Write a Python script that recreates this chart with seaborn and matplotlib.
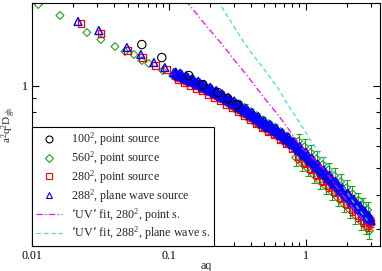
import numpy as np
import pandas as pd
import matplotlib
matplotlib.use("Agg")
import matplotlib.pyplot as plt
import seaborn as sns
from matplotlib.lines import Line2D
from matplotlib.ticker import FixedLocator, LogLocator, NullFormatter, FixedFormatter

# ---------------- data ----------------
black_aq = [0.0635, 0.0889, 0.1400, 0.1771, 0.2280, 0.2697, 0.3134]
black_val = [1.411, 1.265, 1.088, 1.008, 0.943, 0.897, 0.852]

green_low_aq = [0.0111, 0.0160, 0.0252, 0.0319, 0.0404, 0.0478, 0.0556, 0.0635, 0.0714, 0.0904, 0.1069]
green_low_val = [1.975, 1.801, 1.561, 1.472, 1.388, 1.331, 1.298, 1.234, 1.203, 1.134, 1.088]

red_low_aq = [0.0228, 0.0319, 0.0502, 0.0646, 0.0804, 0.0967]
red_low_val = [1.684, 1.548, 1.342, 1.265, 1.183, 1.144]

blue_low_aq = [0.0217, 0.0308, 0.0494, 0.0625, 0.0778, 0.0935, 0.1087]
blue_low_val = [1.713, 1.587, 1.376, 1.298, 1.213, 1.163, 1.115]

# momenta of the dense region (two interleaved sets of lattice momenta)
dense_aq = [0.1125, 0.1183, 0.1244, 0.1308, 0.1376, 0.1447, 0.1522, 0.1601, 0.1684, 0.1771,
            0.1863, 0.1959, 0.2060, 0.2167, 0.2279, 0.2397, 0.2521, 0.2651, 0.2788, 0.2932,
            0.3084, 0.3243, 0.3411, 0.3587, 0.3773, 0.3968, 0.4173, 0.4389, 0.4616, 0.4855,
            0.5105, 0.5369, 0.5647, 0.5939, 0.6246, 0.6569, 0.6909, 0.7266, 0.7642, 0.8037,
            0.8453, 0.8890, 0.9350, 0.9833, 1.034, 1.087, 1.144, 1.203, 1.265, 1.330,
            1.400, 1.472, 1.548, 1.628, 1.713, 1.802, 1.894, 1.992, 2.095, 2.203,
            2.317, 2.437, 2.563, 2.640, 2.742, 2.840, 2.932]
dense_aq_b = [0.1154, 0.1213, 0.1276, 0.1341, 0.1411, 0.1484, 0.1561, 0.1642, 0.1727, 0.1816,
              0.1911, 0.2009, 0.2113, 0.2222, 0.2337, 0.2458, 0.2586, 0.2719, 0.2859, 0.3007,
              0.3163, 0.3326, 0.3498, 0.3679, 0.3870, 0.4070, 0.4280, 0.4501, 0.4734, 0.4979,
              0.5236, 0.5507, 0.5792, 0.6091, 0.6406, 0.6737, 0.7086, 0.7452, 0.7838, 0.8243,
              0.8669, 0.9118, 0.9589, 1.0085, 1.0605, 1.1149, 1.1733, 1.2338, 1.2974, 1.3640,
              1.4358, 1.5096, 1.5876, 1.6697, 1.7569, 1.8481, 1.9425, 2.0430, 2.1486, 2.2594,
              2.3763, 2.4994, 2.6286, 2.7076, 2.8122, 2.9127, 3.0071]

blue_val = [1.121, 1.083, 1.098, 1.060, 1.074, 1.036, 1.049, 1.012, 1.024, 0.988,
            0.999, 0.962, 0.973, 0.937, 0.946, 0.911, 0.920, 0.885, 0.893, 0.858,
            0.865, 0.832, 0.839, 0.806, 0.812, 0.779, 0.784, 0.752, 0.757, 0.726,
            0.731, 0.704, 0.711, 0.683, 0.687, 0.659, 0.662, 0.634, 0.638, 0.610,
            0.611, 0.583, 0.584, 0.557, 0.558, 0.531, 0.530, 0.504, 0.503, 0.480,
            0.481, 0.458, 0.458, 0.437, 0.436, 0.415, 0.415, 0.395, 0.395, 0.375,
            0.374, 0.356, 0.355, 0.341, 0.343, 0.329, 0.330]
blue_val_b = [1.095, 1.110, 1.072, 1.086, 1.048, 1.062, 1.025, 1.037, 1.000, 1.011,
              0.975, 0.986, 0.949, 0.959, 0.924, 0.933, 0.898, 0.906, 0.871, 0.879,
              0.845, 0.852, 0.819, 0.825, 0.792, 0.798, 0.766, 0.771, 0.739, 0.744,
              0.713, 0.721, 0.695, 0.699, 0.671, 0.674, 0.646, 0.650, 0.622, 0.624,
              0.597, 0.598, 0.570, 0.571, 0.544, 0.544, 0.518, 0.517, 0.491, 0.492,
              0.469, 0.470, 0.448, 0.447, 0.426, 0.426, 0.405, 0.405, 0.385, 0.385,
              0.366, 0.365, 0.347, 0.349, 0.335, 0.336, 0.322]
blue_val_c = [1.108, 1.097, 1.085, 1.073, 1.061, 1.049, 1.037, 1.025, 1.012, 1.000,
              0.987, 0.974, 0.961, 0.948, 0.935, 0.922, 0.909, 0.896, 0.882, 0.869,
              0.855, 0.842, 0.829, 0.816, 0.802, 0.789, 0.775, 0.762, 0.748, 0.735,
              0.722, 0.713, 0.703, 0.691, 0.679, 0.667, 0.654, 0.642, 0.630, 0.617,
              0.604, 0.591, 0.577, 0.564, 0.551, 0.538, 0.524, 0.511, 0.497, 0.486,
              0.475, 0.464, 0.453, 0.442, 0.431, 0.421, 0.410, 0.400, 0.390, 0.380,
              0.370, 0.361, 0.351, 0.345, 0.339, 0.333, 0.326]

red_val = [1.091, 1.047, 1.069, 1.025, 1.045, 1.002, 1.021, 0.978, 0.997, 0.955,
           0.972, 0.930, 0.947, 0.905, 0.921, 0.881, 0.895, 0.855, 0.869, 0.829,
           0.842, 0.804, 0.817, 0.779, 0.790, 0.753, 0.763, 0.727, 0.737, 0.702,
           0.711, 0.680, 0.692, 0.660, 0.669, 0.637, 0.644, 0.613, 0.621, 0.589,
           0.595, 0.549, 0.568, 0.525, 0.543, 0.500, 0.516, 0.475, 0.490, 0.452,
           0.468, 0.432, 0.446, 0.411, 0.425, 0.391, 0.404, 0.372, 0.384, 0.353,
           0.364, 0.335, 0.346, 0.321, 0.334, 0.309, 0.321]
red_val_b = [1.080, 1.069, 1.058, 1.046, 1.034, 1.023, 1.011, 0.999, 0.987, 0.975,
             0.962, 0.950, 0.937, 0.924, 0.912, 0.899, 0.886, 0.873, 0.860, 0.847,
             0.834, 0.821, 0.808, 0.795, 0.782, 0.769, 0.756, 0.742, 0.729, 0.717,
             0.704, 0.695, 0.685, 0.674, 0.662, 0.650, 0.638, 0.626, 0.614, 0.602,
             0.589, 0.576, 0.563, 0.550, 0.537, 0.524, 0.511, 0.498, 0.485, 0.474,
             0.463, 0.452, 0.442, 0.431, 0.420, 0.410, 0.400, 0.390, 0.380, 0.371,
             0.361, 0.351, 0.342, 0.336, 0.331, 0.324, 0.318]
red_err = [0.006] * 20 + [0.012] * 20 + [
           0.024, 0.023, 0.023, 0.022, 0.022, 0.021, 0.021, 0.020, 0.020, 0.019,
           0.019, 0.018, 0.018, 0.017, 0.017, 0.016, 0.016, 0.015, 0.015, 0.015,
           0.015, 0.014, 0.014, 0.013, 0.013, 0.013, 0.013]

green_val = [1.080, 1.086, 1.058, 1.062, 1.034, 1.039, 1.011, 1.014, 0.987, 0.990,
             0.962, 0.964, 0.937, 0.939, 0.912, 0.913, 0.886, 0.887, 0.860, 0.860,
             0.821, 0.859, 0.796, 0.832, 0.770, 0.804, 0.744, 0.777, 0.718, 0.750,
             0.693, 0.727, 0.675, 0.705, 0.652, 0.680, 0.628, 0.655, 0.605, 0.629,
             0.547, 0.626, 0.522, 0.598, 0.499, 0.570, 0.474, 0.541, 0.450, 0.515,
             0.430, 0.492, 0.410, 0.469, 0.390, 0.446, 0.371, 0.424, 0.353, 0.403,
             0.335, 0.382, 0.318, 0.366, 0.307, 0.352, 0.295]
green_err = [0.011, 0.011, 0.011, 0.011, 0.010, 0.010, 0.010, 0.010, 0.010, 0.010,
             0.010, 0.010, 0.009, 0.009, 0.009, 0.009, 0.009, 0.009, 0.009, 0.009,
             0.021, 0.021, 0.020, 0.021, 0.019, 0.020, 0.019, 0.019, 0.018, 0.019,
             0.017, 0.018, 0.017, 0.018, 0.016, 0.017, 0.016, 0.016, 0.015, 0.016,
             0.036, 0.041, 0.034, 0.039, 0.032, 0.037, 0.031, 0.035, 0.029, 0.033,
             0.028, 0.032, 0.027, 0.030, 0.025, 0.029, 0.024, 0.028, 0.023, 0.026,
             0.022, 0.025, 0.021, 0.024, 0.020, 0.023, 0.019]

uv280_aq = [0.1331, 0.1771, 0.2096, 0.2563, 0.3032, 0.3587, 0.4315, 0.5020, 0.5938,
            0.7025, 0.8312, 0.935, 1.331, 1.771, 2.203, 2.836]
uv280_val = [2.043, 1.713, 1.548, 1.376, 1.234, 1.115, 0.992, 0.897, 0.810,
             0.727, 0.646, 0.594, 0.502, 0.414, 0.359, 0.311]

uv288_aq = [0.2279, 0.3189, 0.3903, 0.5192, 0.6246, 0.7642, 0.904, 1.069, 1.331, 1.771, 2.203, 2.836]
uv288_val = [2.043, 1.561, 1.342, 1.115, 0.983, 0.831, 0.733, 0.641, 0.546, 0.450, 0.380, 0.322]

labels = ["100$^2$, point source", "560$^2$, point source", "280$^2$, point source",
          "288$^2$, plane wave source", "\u2019UV\u2019 fit, 280$^2$, point s.",
          "\u2019UV\u2019 fit, 288$^2$, plane wave s."]

C_BLACK, C_GREEN, C_RED, C_BLUE = "black", "#1fa01f", "#ff0000", "#0000ff"
C_MAG, C_CYAN = "#ff00ff", "#40e0d0"

# ---------------- style ----------------
sns.set_theme(style="ticks")
plt.rcParams['font.family'] = ['Liberation Serif', 'DejaVu Serif']
plt.rcParams['mathtext.default'] = 'regular'
FS = 8.65

fig = plt.figure(figsize=(3.82, 2.71), dpi=100)
ax = fig.add_axes([32 / 382, 25 / 271, 348 / 382, 243 / 271])
ax.set_xscale('log')
ax.set_yscale('log')

green_df = pd.DataFrame({"aq": green_low_aq + dense_aq, "v": green_low_val + green_val})
red_df = pd.DataFrame({"aq": red_low_aq + dense_aq + dense_aq_b,
                       "v": red_low_val + red_val + red_val_b})
blue_df = pd.DataFrame({"aq": blue_low_aq + dense_aq + dense_aq_b + dense_aq,
                        "v": blue_low_val + blue_val + blue_val_b + blue_val_c})
black_df = pd.DataFrame({"aq": black_aq, "v": black_val})


def open_scatter(df, marker, s, color, z, lw=0.8):
    n0 = len(ax.collections)
    sns.scatterplot(data=df, x="aq", y="v", marker=marker, s=s, ax=ax,
                    color=color, linewidth=lw, legend=False)
    for c in ax.collections[n0:]:
        c.set_facecolor('none')
        c.set_edgecolor(color)
        c.set_linewidth(lw)
        c.set_zorder(z)


def err_bars(xs, ys, es, color, z):
    cont = ax.errorbar(xs, ys, yerr=es, fmt='none', ecolor=color,
                       elinewidth=0.8, capsize=2.5, capthick=0.8)
    for art in cont.get_children():
        art.set_zorder(z)


# green
err_bars(dense_aq, green_val, green_err, C_GREEN, 1.0)
open_scatter(green_df, 'D', 16, C_GREEN, 1.1)
# red
err_bars(dense_aq, red_val, red_err, C_RED, 1.2)
err_bars(dense_aq_b, red_val_b, red_err, C_RED, 1.2)
open_scatter(red_df, 's', 24, C_RED, 1.3, 0.9)
# blue
open_scatter(blue_df, '^', 32, C_BLUE, 1.4, 1.0)
# black
open_scatter(black_df, 'o', 36, C_BLACK, 1.5)

# UV fits
sns.lineplot(x=uv280_aq, y=uv280_val, ax=ax, sort=False, estimator=None, color=C_MAG,
             linewidth=0.9, linestyle=(0, (5, 2, 1, 2)), zorder=3)
sns.lineplot(x=uv288_aq, y=uv288_val, ax=ax, sort=False, estimator=None, color=C_CYAN,
             linewidth=0.9, linestyle=(0, (3.5, 2.5)), zorder=3)

ax.set_xlim(0.01, 3.5)
ax.set_ylim(0.26, 2.0)

ax.xaxis.set_major_locator(FixedLocator([0.01, 0.1, 1]))
ax.xaxis.set_major_formatter(FixedFormatter(["0.01", "0.1", "1"]))
ax.xaxis.set_minor_locator(LogLocator(base=10, subs=np.arange(2, 10)))
ax.xaxis.set_minor_formatter(NullFormatter())
ax.yaxis.set_major_locator(FixedLocator([1]))
ax.yaxis.set_major_formatter(FixedFormatter(["1"]))
ax.yaxis.set_minor_locator(LogLocator(base=10, subs=np.arange(2, 10)))
ax.yaxis.set_minor_formatter(NullFormatter())

ax.tick_params(which='both', direction='in', top=True, right=True, colors='black',
               labelsize=FS, width=0.8)
ax.tick_params(which='major', length=5, pad=3)
ax.tick_params(which='minor', length=2.7)
for sp in ax.spines.values():
    sp.set_visible(True)
    sp.set_linewidth(0.8)
    sp.set_color('black')
    sp.set_zorder(5)

ax.set_xlabel("aq", fontsize=FS, labelpad=-1.5)
ax.set_ylabel("a$^2$q$^2$D$_{gh}$", fontsize=8.0)
ax.yaxis.set_label_coords(-0.040, 0.5)

handles = [
    Line2D([], [], ls='none', marker='o', ms=5, mfc='none', mec=C_BLACK, mew=0.8),
    Line2D([], [], ls='none', marker='D', ms=4, mfc='none', mec=C_GREEN, mew=0.8),
    Line2D([], [], ls='none', marker='s', ms=4.5, mfc='none', mec=C_RED, mew=0.8),
    Line2D([], [], ls='none', marker='^', ms=5, mfc='none', mec=C_BLUE, mew=0.8),
    Line2D([], [], color=C_MAG, lw=0.9, ls=(0, (5, 2, 1, 2))),
    Line2D([], [], color=C_CYAN, lw=0.9, ls=(0, (3.5, 2.5))),
]
leg = ax.legend(handles, labels, loc='lower left', bbox_to_anchor=(0, 0), borderaxespad=0,
                frameon=True, fancybox=False, edgecolor='black', framealpha=1,
                fontsize=FS, handlelength=2.2, handletextpad=0.75, borderpad=0.3,
                labelspacing=0.1)
leg.get_frame().set_linewidth(0.8)
leg.set_zorder(6)

fig.savefig("out.png", dpi=100)
